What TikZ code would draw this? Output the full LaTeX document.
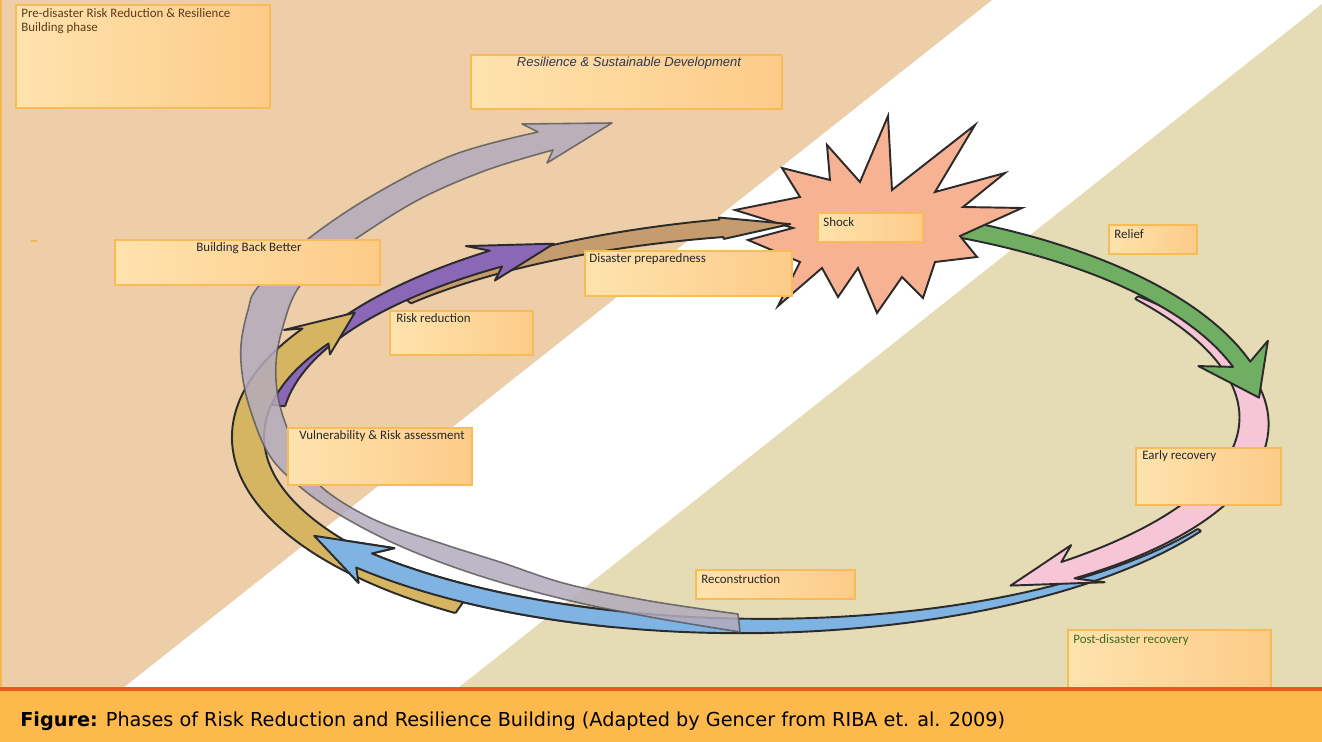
\documentclass[tikz,border=0pt]{standalone}
\usepackage{fontspec}
\usepackage{graphicx}
\setmainfont{Carlito}
\newfontfamily\capfont{DejaVu Sans}
\newfontfamily\arfont{Liberation Sans}
\definecolor{tanbg}{HTML}{EDCEA9}
\definecolor{khakibg}{HTML}{E5DBB4}
\definecolor{boxA}{HTML}{FEE3AD}
\definecolor{boxB}{HTML}{FDCB89}
\definecolor{boxline}{HTML}{F8BC56}
\definecolor{outl}{HTML}{2B2B2B}
\definecolor{greenA}{HTML}{6FAE63}
\definecolor{pinkA}{HTML}{F7C6D6}
\definecolor{blueA}{HTML}{7FB3E2}
\definecolor{goldA}{HTML}{D5B462}
\definecolor{purpA}{HTML}{8B67B8}
\definecolor{brownA}{HTML}{C69B6D}
\definecolor{greyA}{HTML}{B3ABBD}
\definecolor{starA}{HTML}{F7B294}
\definecolor{capband}{HTML}{FDB94C}
\definecolor{capline}{HTML}{E8591E}
\definecolor{edgeorange}{HTML}{F6B54E}
\definecolor{txtdark}{HTML}{262626}
\definecolor{txtbrown}{HTML}{5B3A1A}
\definecolor{txtgreen}{HTML}{3E6B1F}
\definecolor{txtslate}{HTML}{2F3552}
\usetikzlibrary{calc}
\tikzset{
  arrline/.style={draw=outl, line width=1.1pt, line join=round},
  lbox/.style={draw=boxline, line width=0.6pt, left color=boxA, right color=boxB},
  ltext/.style={font=\fontsize{7.35}{9}\selectfont, text=txtdark, inner sep=0pt, anchor=base west},
  greyarr/.style={fill=greyA, fill opacity=0.85, draw=outl!80, draw opacity=0.8, line width=0.9pt, line join=round},
}
\pgfkeys{/ra/.is family}
\pgfkeys{/ra/.cd,
 cx/.initial=752, cy/.initial=428, a/.initial=500, b/.initial=200,
 ta/.initial=0, ts/.initial=x, tj/.initial=90, tb/.initial=88, tt/.initial=100,
 wt/.initial=8, w/.initial=8, wb/.initial=0, W/.initial=20, tail/.initial=1}
\newcommand{\ringarrow}[2]{%
 \begingroup
 \pgfkeys{/ra/.cd,#2}%
 \edef\Rcx{\pgfkeysvalueof{/ra/cx}}%
 \edef\Rcy{\pgfkeysvalueof{/ra/cy}}%
 \edef\Ra{\pgfkeysvalueof{/ra/a}}%
 \edef\Rb{\pgfkeysvalueof{/ra/b}}%
 \edef\Rta{\pgfkeysvalueof{/ra/ta}}%
 \edef\Rts{\pgfkeysvalueof{/ra/ts}}%
 \edef\Rtj{\pgfkeysvalueof{/ra/tj}}%
 \edef\Rtb{\pgfkeysvalueof{/ra/tb}}%
 \edef\Rtt{\pgfkeysvalueof{/ra/tt}}%
 \edef\Rwt{\pgfkeysvalueof{/ra/wt}}%
 \edef\Rw{\pgfkeysvalueof{/ra/w}}%
 \edef\Rwb{\pgfkeysvalueof{/ra/wb}}%
 \edef\RW{\pgfkeysvalueof{/ra/W}}%
 \edef\Rtail{\pgfkeysvalueof{/ra/tail}}%
 \def\Rnone{x}\ifx\Rts\Rnone \let\Rts\Rta \fi
 \begin{scope}[declare function={rs(\q)=((\q)-\Rta)/(\Rtj-\Rta); rw(\q)=\Rwt+(\Rw-\Rwt)*rs(\q)+\Rwb*sin(180*rs(\q));}]
 \fill[#1] plot[domain=\Rts:\Rtj,samples=60,variable=\t] ({\Rcx+(\Ra+rw(\t))*cos(\t)},{\Rcy+(\Rb+rw(\t))*sin(\t)})
   -- ({\Rcx+(\Ra+\RW)*cos(\Rtb)},{\Rcy+(\Rb+\RW)*sin(\Rtb)})
   -- ({\Rcx+\Ra*cos(\Rtt)},{\Rcy+\Rb*sin(\Rtt)})
   -- ({\Rcx+(\Ra-\RW)*cos(\Rtb)},{\Rcy+(\Rb-\RW)*sin(\Rtb)})
   -- plot[domain=\Rtj:\Rts,samples=60,variable=\t] ({\Rcx+(\Ra-rw(\t))*cos(\t)},{\Rcy+(\Rb-rw(\t))*sin(\t)}) -- cycle;
 \draw[arrline] plot[domain=\Rts:\Rtj,samples=60,variable=\t] ({\Rcx+(\Ra+rw(\t))*cos(\t)},{\Rcy+(\Rb+rw(\t))*sin(\t)})
   -- ({\Rcx+(\Ra+\RW)*cos(\Rtb)},{\Rcy+(\Rb+\RW)*sin(\Rtb)})
   -- ({\Rcx+\Ra*cos(\Rtt)},{\Rcy+\Rb*sin(\Rtt)})
   -- ({\Rcx+(\Ra-\RW)*cos(\Rtb)},{\Rcy+(\Rb-\RW)*sin(\Rtb)})
   -- plot[domain=\Rtj:\Rts,samples=60,variable=\t] ({\Rcx+(\Ra-rw(\t))*cos(\t)},{\Rcy+(\Rb-rw(\t))*sin(\t)});
 \ifnum\Rtail=1
  \draw[arrline] ({\Rcx+(\Ra-\Rwt)*cos(\Rta)},{\Rcy+(\Rb-\Rwt)*sin(\Rta)}) -- ({\Rcx+(\Ra+\Rwt)*cos(\Rta)},{\Rcy+(\Rb+\Rwt)*sin(\Rta)});
 \fi
 \end{scope}
 \endgroup}

\begin{document}
\begin{tikzpicture}[x=0.02cm, y=-0.02cm]
\useasboundingbox (0,0) rectangle (1322,742);
% backgrounds
\fill[white] (0,0) rectangle (1322,742);
\fill[tanbg] (0,0) -- (992,0) -- (123,688) -- (0,688) -- cycle;
\fill[khakibg] (1322,4) -- (1322,688) -- (458,688) -- cycle;
\draw[edgeorange, line width=1.2pt] (1,0) -- (1,688);
\fill[edgeorange] (31,240) rectangle (37,242);

% blue (Reconstruction), full
\ringarrow{blueA}{cx=752,cy=428,a=522,b=198,ta=31,tj=138,tb=136,tt=147,wt=2,w=10.5,wb=0.5,W=25}
% pink (Early recovery)
\ringarrow{pinkA}{cx=752,cy=421,a=502,b=192,ta=-40,tj=51,tb=48,tt=59,wt=2,w=10.5,wb=9,W=25}
% green (Relief)
\ringarrow{greenA}{cx=752,cy=428,a=512,b=218,ta=-72,tj=-17,tb=-20,tt=-8,wt=9,w=9,wb=0,W=37}
% star (Shock)
\filldraw[fill=starA, draw=outl, line width=1.1pt, line join=miter]
 (888,116) -- (892,190) -- (975,125) -- (935,192) -- (1005,173) -- (963,207) -- (1022,208) -- (960,236)
 -- (977,257) -- (935,262) -- (923,298) -- (902,277) -- (877,313) -- (858,268) -- (838,297) -- (822,268)
 -- (778,306) -- (800,262) -- (748,240) -- (793,228) -- (735,210) -- (800,197) -- (782,168) -- (830,180)
 -- (827,145) -- (860,182) -- cycle;
% brown (Disaster preparedness)
\ringarrow{brownA}{cx=850,cy=428,a=572,b=205,ta=219,tj=257,tb=257,tt=264,wt=7,w=9,wb=0,W=11}
% purple (Risk reduction)
\ringarrow{purpA}{cx=850,cy=428,a=575,b=215,ta=186,tj=232,tb=230,tt=239,wt=7,w=10,wb=0,W=22.5}
% golden (Vulnerability & Risk assessment)
\ringarrow{goldA}{cx=752,cy=437,a=504,b=202,ta=125,tj=210,tb=208,tt=218,wt=13,w=15,wb=2,W=26}
% blue head again, over golden
\ringarrow{blueA}{cx=752,cy=428,a=522,b=198,ta=31,ts=105,tj=138,tb=136,tt=147,wt=2,w=10.5,wb=0.5,W=25,tail=0}
% grey (Building Back Better)
\path[greyarr] plot[smooth,tension=0.6] coordinates {(740,632) (650,617) (567,600) (480,576) (400,546) (335,512) (292,480) (268,453) (252,415) (243,380) (241,345) (248,310) (258,287) (303,243) (370,197) (453,155) (538,132)}
 -- (522,124) -- (612,123) -- (547,163)
 -- plot[smooth,tension=0.6] coordinates {(553,150) (487,170) (420,199) (360,236) (325,262) (297,290) (282,330) (276,363) (278,397) (288,430) (304,462) (325,490) (375,520) (440,543) (500,562) (567,584) (650,601) (738,614)} -- cycle;

% label boxes
\path[lbox] (16,5) rectangle (270,108);
\path[lbox] (471,55) rectangle (782,109);
\path[lbox] (115,240) rectangle (380,285);
\path[lbox] (818,213) rectangle (923,242);
\path[lbox] (585,251) rectangle (792,296);
\path[lbox] (1109,225) rectangle (1197,254);
\path[lbox] (390,311) rectangle (533,355);
\path[lbox] (288,428) rectangle (472,485);
\path[lbox] (1136,448) rectangle (1281,505);
\path[lbox] (696,570) rectangle (855,599);
\path[lbox] (1068,630) rectangle (1271,688);

\node[ltext, text=txtbrown] (pre1) at (21,18) {Pre-disaster Risk Reduction \& Resilience};
\node[ltext, text=txtbrown] (pre2) at (21,32) {Building phase};
\node[ltext, anchor=base, font=\arfont\itshape\fontsize{7.4}{9}\selectfont, text=txtslate] (res) at (629,67) {Resilience \& Sustainable Development};
\node[ltext, anchor=base] (bbb) at (249,252) {Building Back Better};
\node[ltext] (shock) at (823,227) {Shock};
\node[ltext] (prep) at (589,263) {Disaster preparedness};
\node[ltext] (relief) at (1114,239) {Relief};
\node[ltext] (riskred) at (396,323) {Risk reduction};
\node[ltext] (vuln) at (299,440) {Vulnerability \& Risk assessment};
\node[ltext] (early) at (1142,460) {Early recovery};
\node[ltext] (recon) at (701,584) {Reconstruction};
\node[ltext, text=txtgreen] (post) at (1073,644) {Post-disaster recovery};

% caption
\fill[capband] (0,689) rectangle (1322,742);
\draw[capline, line width=2.2pt] (0,689) -- (1322,689);
\node[anchor=base west, inner sep=0pt] (cap) at (20,727) {\resizebox{19.7cm}{!}{\capfont\textbf{Figure:} Phases of Risk Reduction and Resilience Building (Adapted by Gencer from RIBA et. al. 2009)}};
\end{tikzpicture}
\end{document}
